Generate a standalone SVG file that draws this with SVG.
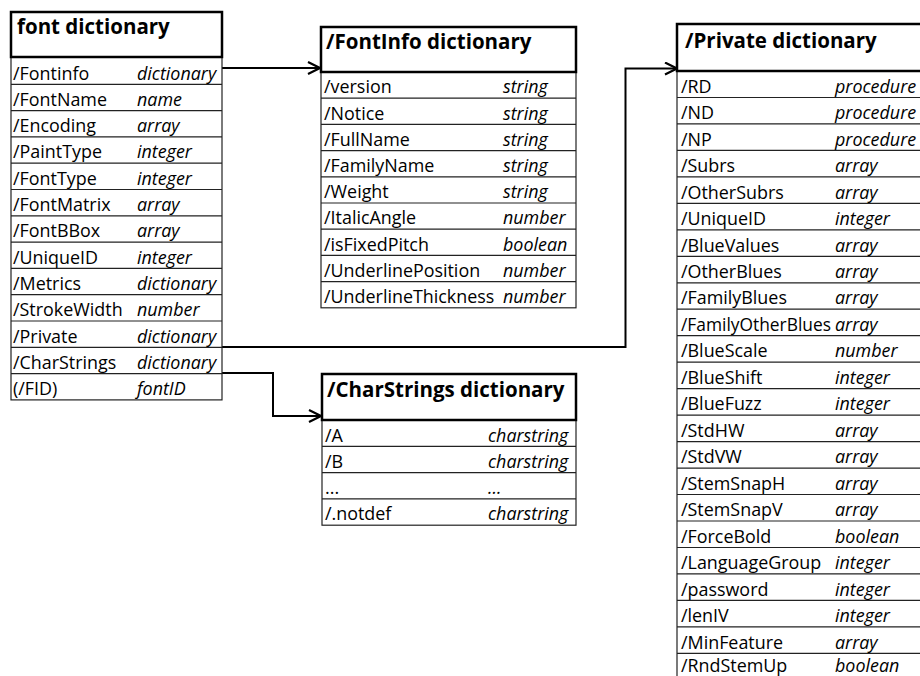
<svg xmlns="http://www.w3.org/2000/svg" width="920" height="676" viewBox="0 0 920 676">
<defs>
<style>
text{font-family:"Open Sans","Noto Sans","Liberation Sans",sans-serif;fill:#000}
.h{font-size:20.5px;font-weight:bold}
.n{font-size:17.9px}
.t{font-size:17.9px;font-style:italic}
.hd{fill:#fff;stroke:#000;stroke-width:2.5}
.bx{fill:#fff;stroke:#222;stroke-width:1.2}
.rl{stroke:#222;stroke-width:1.2}
.cn{fill:none;stroke:#000;stroke-width:2}
</style>
<marker id="arr" viewBox="0 0 14 14" refX="13" refY="7" markerWidth="14" markerHeight="14" markerUnits="userSpaceOnUse" orient="auto">
<path d="M1,1 L13,7 L1,13" fill="none" stroke="#000" stroke-width="2.2"/>
</marker>
</defs>
<rect width="920" height="676" fill="#fff"/>

<g id="connectors">
<path class="cn" d="M222,68 H320" marker-end="url(#arr)"/>
<path class="cn" d="M222,347 H625.5 V68.5 H677" marker-end="url(#arr)"/>
<path class="cn" d="M222,373 H273 V416 H321" marker-end="url(#arr)"/>
</g>

<g id="font-dictionary">
<rect class="bx" x="11" y="57" width="211" height="342.9"/>
<g class="rl">
<line x1="11" y1="84.3" x2="222" y2="84.3"/>
<line x1="11" y1="110.6" x2="222" y2="110.6"/>
<line x1="11" y1="136.9" x2="222" y2="136.9"/>
<line x1="11" y1="163.2" x2="222" y2="163.2"/>
<line x1="11" y1="189.5" x2="222" y2="189.5"/>
<line x1="11" y1="215.8" x2="222" y2="215.8"/>
<line x1="11" y1="242.1" x2="222" y2="242.1"/>
<line x1="11" y1="268.4" x2="222" y2="268.4"/>
<line x1="11" y1="294.7" x2="222" y2="294.7"/>
<line x1="11" y1="321" x2="222" y2="321"/>
<line x1="11" y1="347.3" x2="222" y2="347.3"/>
<line x1="11" y1="373.6" x2="222" y2="373.6"/>
</g>
<rect class="hd" x="11" y="12" width="211" height="45"/>
<text class="h" x="17" y="34">font dictionary</text>
<text class="n" x="13" y="79.5">/Fontinfo</text><text class="t" x="137" y="79.5">dictionary</text>
<text class="n" x="13" y="105.8">/FontName</text><text class="t" x="137" y="105.8">name</text>
<text class="n" x="13" y="132.1">/Encoding</text><text class="t" x="137" y="132.1">array</text>
<text class="n" x="13" y="158.4">/PaintType</text><text class="t" x="137" y="158.4">integer</text>
<text class="n" x="13" y="184.7">/FontType</text><text class="t" x="137" y="184.7">integer</text>
<text class="n" x="13" y="211">/FontMatrix</text><text class="t" x="137" y="211">array</text>
<text class="n" x="13" y="237.3">/FontBBox</text><text class="t" x="137" y="237.3">array</text>
<text class="n" x="13" y="263.6">/UniqueID</text><text class="t" x="137" y="263.6">integer</text>
<text class="n" x="13" y="289.9">/Metrics</text><text class="t" x="137" y="289.9">dictionary</text>
<text class="n" x="13" y="316.2">/StrokeWidth</text><text class="t" x="137" y="316.2">number</text>
<text class="n" x="13" y="342.5">/Private</text><text class="t" x="137" y="342.5">dictionary</text>
<text class="n" x="13" y="368.8">/CharStrings</text><text class="t" x="137" y="368.8">dictionary</text>
<text class="n" x="13" y="395.1">(/FID)</text><text class="t" x="137" y="395.1">fontID</text>
</g>

<g id="fontinfo-dictionary">
<rect class="bx" x="321" y="72" width="255" height="235.8"/>
<g class="rl">
<line x1="321" y1="98.2" x2="576" y2="98.2"/>
<line x1="321" y1="124.4" x2="576" y2="124.4"/>
<line x1="321" y1="150.6" x2="576" y2="150.6"/>
<line x1="321" y1="176.8" x2="576" y2="176.8"/>
<line x1="321" y1="203" x2="576" y2="203"/>
<line x1="321" y1="229.2" x2="576" y2="229.2"/>
<line x1="321" y1="255.4" x2="576" y2="255.4"/>
<line x1="321" y1="281.6" x2="576" y2="281.6"/>
</g>
<rect class="hd" x="321" y="27" width="255" height="45"/>
<text class="h" x="326" y="49">/FontInfo dictionary</text>
<text class="n" x="324" y="93.4">/version</text><text class="t" x="503" y="93.4">string</text>
<text class="n" x="324" y="119.6">/Notice</text><text class="t" x="503" y="119.6">string</text>
<text class="n" x="324" y="145.8">/FullName</text><text class="t" x="503" y="145.8">string</text>
<text class="n" x="324" y="172">/FamilyName</text><text class="t" x="503" y="172">string</text>
<text class="n" x="324" y="198.2">/Weight</text><text class="t" x="503" y="198.2">string</text>
<text class="n" x="324" y="224.4">/ItalicAngle</text><text class="t" x="503" y="224.4">number</text>
<text class="n" x="324" y="250.6">/isFixedPitch</text><text class="t" x="503" y="250.6">boolean</text>
<text class="n" x="324" y="276.8">/UnderlinePosition</text><text class="t" x="503" y="276.8">number</text>
<text class="n" x="324" y="303">/UnderlineThickness</text><text class="t" x="503" y="303">number</text>
</g>

<g id="charstrings-dictionary">
<rect class="bx" x="322" y="420" width="254" height="105.2"/>
<g class="rl">
<line x1="322" y1="446.3" x2="576" y2="446.3"/>
<line x1="322" y1="472.6" x2="576" y2="472.6"/>
<line x1="322" y1="498.9" x2="576" y2="498.9"/>
</g>
<rect class="hd" x="322" y="374" width="254" height="46"/>
<text class="h" x="327" y="397">/CharStrings dictionary</text>
<text class="n" x="325" y="441.5">/A</text><text class="t" x="488" y="441.5">charstring</text>
<text class="n" x="325" y="467.8">/B</text><text class="t" x="488" y="467.8">charstring</text>
<text class="n" x="325" y="494.1">...</text><text class="t" x="488" y="494.1">...</text>
<text class="n" x="325" y="520.4">/.notdef</text><text class="t" x="488" y="520.4">charstring</text>
</g>

<g id="private-dictionary">
<rect class="bx" x="677" y="71" width="260" height="608.8"/>
<g class="rl">
<line x1="677" y1="97.5" x2="930" y2="97.5"/>
<line x1="677" y1="123.9" x2="930" y2="123.9"/>
<line x1="677" y1="150.4" x2="930" y2="150.4"/>
<line x1="677" y1="176.9" x2="930" y2="176.9"/>
<line x1="677" y1="203.4" x2="930" y2="203.4"/>
<line x1="677" y1="229.8" x2="930" y2="229.8"/>
<line x1="677" y1="256.3" x2="930" y2="256.3"/>
<line x1="677" y1="282.8" x2="930" y2="282.8"/>
<line x1="677" y1="309.2" x2="930" y2="309.2"/>
<line x1="677" y1="335.7" x2="930" y2="335.7"/>
<line x1="677" y1="362.2" x2="930" y2="362.2"/>
<line x1="677" y1="388.6" x2="930" y2="388.6"/>
<line x1="677" y1="415.1" x2="930" y2="415.1"/>
<line x1="677" y1="441.6" x2="930" y2="441.6"/>
<line x1="677" y1="468.1" x2="930" y2="468.1"/>
<line x1="677" y1="494.5" x2="930" y2="494.5"/>
<line x1="677" y1="521" x2="930" y2="521"/>
<line x1="677" y1="547.5" x2="930" y2="547.5"/>
<line x1="677" y1="573.9" x2="930" y2="573.9"/>
<line x1="677" y1="600.4" x2="930" y2="600.4"/>
<line x1="677" y1="626.9" x2="930" y2="626.9"/>
<line x1="677" y1="653.3" x2="930" y2="653.3"/>
</g>
<rect class="hd" x="677" y="24" width="260" height="47"/>
<text class="h" x="685" y="48">/Private dictionary</text>
<text class="n" x="681" y="92.7">/RD</text><text class="t" x="835" y="92.7">procedure</text>
<text class="n" x="681" y="119.1">/ND</text><text class="t" x="835" y="119.1">procedure</text>
<text class="n" x="681" y="145.6">/NP</text><text class="t" x="835" y="145.6">procedure</text>
<text class="n" x="681" y="172.1">/Subrs</text><text class="t" x="835" y="172.1">array</text>
<text class="n" x="681" y="198.6">/OtherSubrs</text><text class="t" x="835" y="198.6">array</text>
<text class="n" x="681" y="225">/UniqueID</text><text class="t" x="835" y="225">integer</text>
<text class="n" x="681" y="251.5">/BlueValues</text><text class="t" x="835" y="251.5">array</text>
<text class="n" x="681" y="278">/OtherBlues</text><text class="t" x="835" y="278">array</text>
<text class="n" x="681" y="304.4">/FamilyBlues</text><text class="t" x="835" y="304.4">array</text>
<text class="n" x="681" y="330.9" textLength="150" lengthAdjust="spacingAndGlyphs">/FamilyOtherBlues</text><text class="t" x="835" y="330.9">array</text>
<text class="n" x="681" y="357.4">/BlueScale</text><text class="t" x="835" y="357.4">number</text>
<text class="n" x="681" y="383.8">/BlueShift</text><text class="t" x="835" y="383.8">integer</text>
<text class="n" x="681" y="410.3">/BlueFuzz</text><text class="t" x="835" y="410.3">integer</text>
<text class="n" x="681" y="436.8">/StdHW</text><text class="t" x="835" y="436.8">array</text>
<text class="n" x="681" y="463.3">/StdVW</text><text class="t" x="835" y="463.3">array</text>
<text class="n" x="681" y="489.7">/StemSnapH</text><text class="t" x="835" y="489.7">array</text>
<text class="n" x="681" y="516.2">/StemSnapV</text><text class="t" x="835" y="516.2">array</text>
<text class="n" x="681" y="542.7">/ForceBold</text><text class="t" x="835" y="542.7">boolean</text>
<text class="n" x="681" y="569.1">/LanguageGroup</text><text class="t" x="835" y="569.1">integer</text>
<text class="n" x="681" y="595.6">/password</text><text class="t" x="835" y="595.6">integer</text>
<text class="n" x="681" y="622.1">/lenIV</text><text class="t" x="835" y="622.1">integer</text>
<text class="n" x="681" y="648.5">/MinFeature</text><text class="t" x="835" y="648.5">array</text>
<text class="n" x="681" y="671.5">/RndStemUp</text><text class="t" x="835" y="671.5">boolean</text>
</g>
</svg>
